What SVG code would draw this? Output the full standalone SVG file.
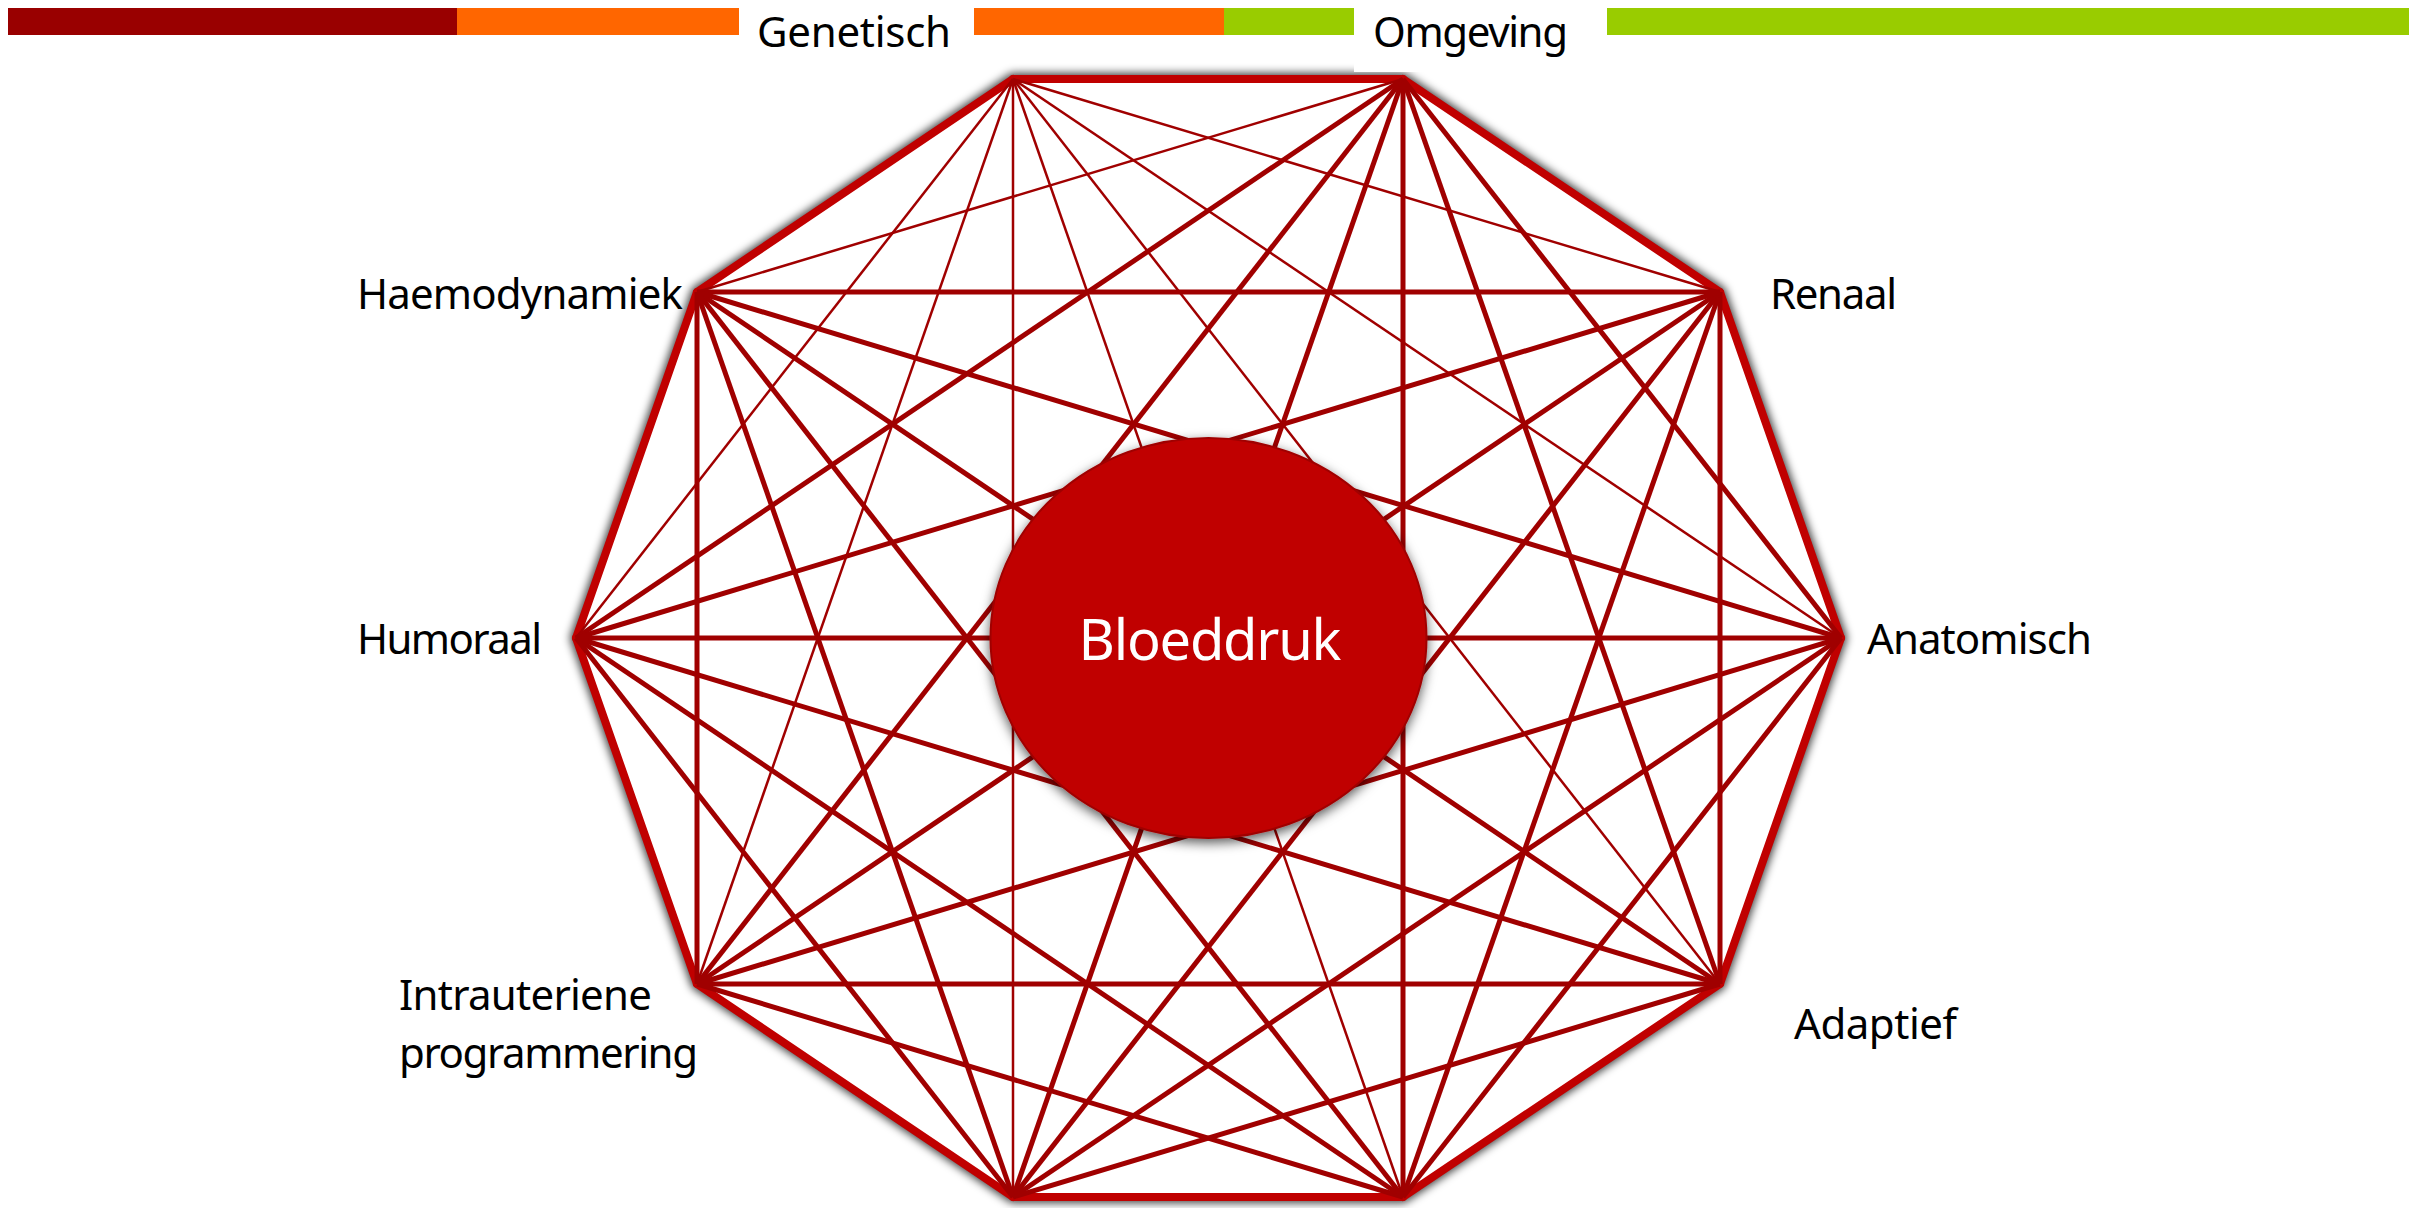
<svg xmlns="http://www.w3.org/2000/svg" width="2432" height="1208" viewBox="0 0 2432 1208">
<defs>
<style>
.lbl{font-family:"Noto Sans","Open Sans",sans-serif;font-size:42px;fill:#000}
.ctr{font-family:"Noto Sans","Open Sans",sans-serif;font-size:56px;fill:#fff}
.edge{stroke:#C00000;stroke-width:8;stroke-linecap:round;fill:none}
.d{stroke:#A00000;stroke-width:5;fill:none}
.t{stroke:#A00000;stroke-width:2.5;fill:none}
</style>
<filter id="glow" x="-10%" y="-10%" width="120%" height="120%">
<feGaussianBlur stdDeviation="4"/>
</filter>
<filter id="shadow" x="-20%" y="-20%" width="140%" height="140%">
<feDropShadow dx="0" dy="4" stdDeviation="6" flood-color="#000" flood-opacity="0.65"/>
</filter>
</defs>
<rect width="2432" height="1208" fill="#fff"/>
<g id="bars">
<rect x="8" y="8" width="449" height="27" fill="#990000"/>
<rect x="457" y="8" width="282" height="27" fill="#FF6600"/>
<rect x="974" y="8" width="250" height="27" fill="#FF6600"/>
<rect x="1224" y="8" width="130" height="27" fill="#99CC00"/>
<rect x="1607" y="8" width="802" height="27" fill="#99CC00"/>
</g>
<g id="decagon-shadow">
<polygon points="1013,79 1403,79 1720,292 1841,638 1720,984 1403,1197 1013,1197 697,984 576,638 697,292" fill="none" stroke="#000" stroke-opacity="0.75" stroke-width="12" stroke-linejoin="round" filter="url(#glow)"/>
<polygon points="1013,79 1403,79 1720,292 1841,638 1720,984 1403,1197 1013,1197 697,984 576,638 697,292" fill="#fff"/>
</g>
<rect id="omgeving-box" x="1354" y="0" width="253" height="72" fill="#fff"/>
<g id="connectors">
<g id="outer-edges">
<line class="edge" x1="1013" y1="79" x2="1403" y2="79"/>
<line class="edge" x1="1403" y1="79" x2="1720" y2="292"/>
<line class="edge" x1="1720" y1="292" x2="1841" y2="638"/>
<line class="edge" x1="1841" y1="638" x2="1720" y2="984"/>
<line class="edge" x1="1720" y1="984" x2="1403" y2="1197"/>
<line class="edge" x1="1403" y1="1197" x2="1013" y2="1197"/>
<line class="edge" x1="1013" y1="1197" x2="697" y2="984"/>
<line class="edge" x1="697" y1="984" x2="576" y2="638"/>
<line class="edge" x1="576" y1="638" x2="697" y2="292"/>
<line class="edge" x1="697" y1="292" x2="1013" y2="79"/>
</g>
<g id="diagonals">
<line class="t" x1="1013" y1="79" x2="1720" y2="292"/>
<line class="t" x1="1013" y1="79" x2="1841" y2="638"/>
<line class="t" x1="1013" y1="79" x2="1720" y2="984"/>
<line class="t" x1="1013" y1="79" x2="1403" y2="1197"/>
<line class="t" x1="1013" y1="79" x2="1013" y2="1197"/>
<line class="t" x1="1013" y1="79" x2="697" y2="984"/>
<line class="t" x1="1013" y1="79" x2="576" y2="638"/>
<line class="d" x1="1403" y1="79" x2="1841" y2="638"/>
<line class="d" x1="1403" y1="79" x2="1720" y2="984"/>
<line class="d" x1="1403" y1="79" x2="1403" y2="1197"/>
<line class="d" x1="1403" y1="79" x2="1013" y2="1197"/>
<line class="d" x1="1403" y1="79" x2="697" y2="984"/>
<line class="d" x1="1403" y1="79" x2="576" y2="638"/>
<line class="t" x1="1403" y1="79" x2="697" y2="292"/>
<line class="d" x1="1720" y1="292" x2="1720" y2="984"/>
<line class="d" x1="1720" y1="292" x2="1403" y2="1197"/>
<line class="d" x1="1720" y1="292" x2="1013" y2="1197"/>
<line class="d" x1="1720" y1="292" x2="697" y2="984"/>
<line class="d" x1="1720" y1="292" x2="576" y2="638"/>
<line class="d" x1="1720" y1="292" x2="697" y2="292"/>
<line class="d" x1="1841" y1="638" x2="1403" y2="1197"/>
<line class="d" x1="1841" y1="638" x2="1013" y2="1197"/>
<line class="d" x1="1841" y1="638" x2="697" y2="984"/>
<line class="d" x1="1841" y1="638" x2="576" y2="638"/>
<line class="d" x1="1841" y1="638" x2="697" y2="292"/>
<line class="d" x1="1720" y1="984" x2="1013" y2="1197"/>
<line class="d" x1="1720" y1="984" x2="697" y2="984"/>
<line class="d" x1="1720" y1="984" x2="576" y2="638"/>
<line class="d" x1="1720" y1="984" x2="697" y2="292"/>
<line class="d" x1="1403" y1="1197" x2="697" y2="984"/>
<line class="d" x1="1403" y1="1197" x2="576" y2="638"/>
<line class="d" x1="1403" y1="1197" x2="697" y2="292"/>
<line class="d" x1="1013" y1="1197" x2="576" y2="638"/>
<line class="d" x1="1013" y1="1197" x2="697" y2="292"/>
<line class="d" x1="697" y1="984" x2="697" y2="292"/>
</g>
</g>
<g id="node-bloeddruk">
<ellipse cx="1208.5" cy="638" rx="218" ry="200" fill="#C00000" stroke="#A00000" stroke-width="2" filter="url(#shadow)"/>
<text class="ctr" x="1210" y="660" text-anchor="middle" textLength="263">Bloeddruk</text>
</g>
<g id="node-genetisch"><text class="lbl" x="757" y="47" textLength="194">Genetisch</text></g>
<g id="node-omgeving"><text class="lbl" x="1373" y="47" textLength="195">Omgeving</text></g>
<g id="node-haemodynamiek"><text class="lbl" x="357" y="309" textLength="326">Haemodynamiek</text></g>
<g id="node-renaal"><text class="lbl" x="1770" y="309" textLength="127">Renaal</text></g>
<g id="node-humoraal"><text class="lbl" x="357" y="654" textLength="185">Humoraal</text></g>
<g id="node-anatomisch"><text class="lbl" x="1867" y="654" textLength="225">Anatomisch</text></g>
<g id="node-intrauteriene"><text class="lbl" x="399" y="1010" textLength="253">Intrauteriene</text><text class="lbl" x="399" y="1068" textLength="299">programmering</text></g>
<g id="node-adaptief"><text class="lbl" x="1794" y="1039" textLength="163">Adaptief</text></g>
</svg>
